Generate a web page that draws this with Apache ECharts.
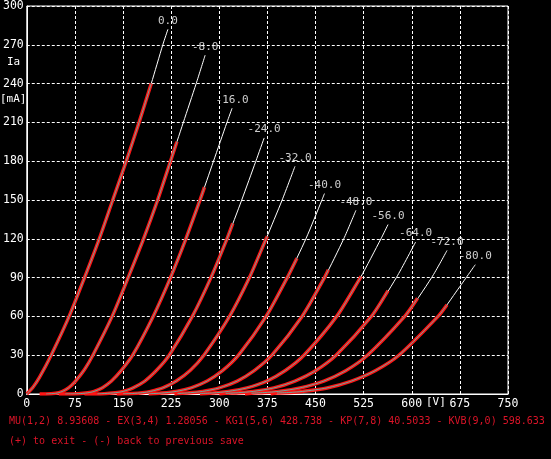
<!DOCTYPE html>
<html>
<head>
<meta charset="utf-8">
<script src="https://cdn.jsdelivr.net/npm/echarts@6/dist/echarts.min.js"></script>
<style>
  html, body { margin: 0; padding: 0; background: #000; }
  #chart { width: 551px; height: 459px; }
</style>
</head>
<body>
<div id="chart"></div>
<script>
// grid voltage of each curve (label at the top end)
const gridVolts = ["0.0", "-8.0", "-16.0", "-24.0", "-32.0", "-40.0", "-48.0", "-56.0", "-64.0", "-72.0", "-80.0"];

// model curves [Va V, Ia mA]
const c0 = [[0, 0], [10, 5.4], [20, 13], [38, 30], [66, 60], [90, 90], [113, 120], [134, 150], [155, 180], [175, 210], [194, 240], [212, 270], [220, 282]];
const c8 = [[30, 0], [45, 0.5], [55, 1.9], [65, 4.7], [76, 10], [90, 19], [103, 30], [133, 60], [158, 90], [182, 120], [204, 150], [224, 180], [244, 210], [264, 240], [278, 262]];
const c16 = [[60, 0], [80, 0.2], [95, 0.9], [105, 2], [118, 4.9], [132, 10], [148, 18.6], [165, 30], [197, 60], [224, 90], [248, 120], [270, 150], [291, 180], [312, 210], [320, 221]];
const c24 = [[110, 0], [138, 1], [150, 2], [165, 4.6], [184, 10], [203, 18.7], [222, 30], [258, 60], [287, 90], [312, 120], [335, 150], [357, 180], [370, 198]];
const c32 = [[150, 0.1], [165, 0.4], [180, 1], [193, 2], [212, 4.7], [233, 10], [255, 18.4], [276, 30], [316, 60], [347, 90], [373, 120], [398, 150], [418, 176]];
const c40 = [[190, 0.15], [210, 0.7], [233, 2], [256, 4.7], [281, 10], [305, 18], [330, 30], [373, 60], [406, 90], [435, 120], [460, 150], [464, 155]];
const c48 = [[235, 0.4], [250, 0.8], [274, 2], [300, 4.7], [328, 10], [355, 18.3], [382, 30], [429, 60], [464, 90], [494, 120], [513, 142]];
const c56 = [[270, 0.4], [290, 0.8], [314, 2], [343, 4.7], [374, 10], [403, 18.2], [432, 30], [483, 60], [520, 90], [552, 120], [563, 131]];
const c64 = [[310, 0.5], [330, 1], [353, 2], [385, 4.7], [418, 10], [450, 18], [482, 30], [537, 60], [576, 90], [606, 117.5]];
const c72 = [[350, 0.6], [370, 1.1], [392, 2], [426, 4.7], [463, 10], [497, 18], [531, 30], [589, 60], [631, 90], [655, 111]];
const c80 = [[390, 0.7], [410, 1.2], [430, 2], [468, 4.7], [506, 10], [543, 18], [580, 30], [641, 60], [672, 81], [699, 100]];
const curves = [c0, c8, c16, c24, c32, c40, c48, c56, c64, c72, c80];

// measured range (red): first point at 0 mA and last point
const measStart = [0, 20, 50, 90, 140, 190, 230, 270, 300, 340, 380];
const measEnd = [[194, 240], [234, 195], [277, 160], [321, 132], [375, 122], [421, 105], [470, 96], [521, 91], [563, 80], [609, 74], [655, 69]];

const xTicks = [0, 75, 150, 225, 300, 375, 450, 525, 600, 675, 750];
const yTicks = [0, 30, 60, 90, 120, 150, 180, 210, 240, 270, 300];

const fitText = "MU(1,2) 8.93608 - EX(3,4) 1.28056 - KG1(5,6) 428.738 - KP(7,8) 40.5033 - KVB(9,0) 598.633";
const helpText = "(+) to exit - (-) back to previous save";

const mono = "DejaVu Sans Mono";
const chart = echarts.init(document.getElementById("chart"));

function measured(i) {
  const pts = curves[i].filter((p) => p[0] > measStart[i] && p[0] < measEnd[i][0]);
  return [[measStart[i], 0]].concat(pts, [measEnd[i]]);
}
function fitted(i) {
  const pts = curves[i].filter((p) => p[0] < measEnd[i][0]);
  return pts.concat([measEnd[i]]);
}

const series = [];
curves.forEach((c, i) => {
  series.push({
    name: gridVolts[i], type: "line", data: c, showSymbol: false, smooth: 0.25,
    lineStyle: { color: "#ffffff", width: 1 }, z: 2, silent: true,
  });
});
curves.forEach((c, i) => {
  series.push({
    type: "line", data: measured(i), showSymbol: false, smooth: 0.25,
    lineStyle: { color: "#ff1414", width: 3.5 }, z: 3, silent: true,
  });
});
curves.forEach((c, i) => {
  series.push({
    type: "line", data: fitted(i), showSymbol: false, smooth: 0.25,
    lineStyle: { color: "#3fd8c8", width: 1, opacity: 0.75 }, z: 4, silent: true,
  });
});
series.push({
  type: "scatter", symbolSize: 0, z: 5, silent: true,
  data: curves.map((c, i) => ({ value: c[c.length - 1], name: gridVolts[i] })),
  label: { show: true, position: "top", distance: 3, formatter: "{b}", color: "#ffffff", fontFamily: mono, fontSize: 11 },
});

chart.setOption({
  backgroundColor: "#000000",
  animation: false,
  grid: { left: 22, right: 43, top: 4, bottom: 65, show: true, borderColor: "#ffffff", borderWidth: 1 },
  xAxis: {
    type: "value", min: xTicks[0], max: xTicks[xTicks.length - 1], interval: 75,
    axisLine: { show: true, lineStyle: { color: "#ffffff" } },
    axisTick: { show: false },
    axisLabel: { color: "#ffffff", fontFamily: mono, fontSize: 11.5, margin: 4 },
    splitLine: { show: true, lineStyle: { color: "#ffffff", type: [3, 2], width: 1 } },
  },
  yAxis: {
    type: "value", min: yTicks[0], max: yTicks[yTicks.length - 1], interval: 30,
    axisLine: { show: true, lineStyle: { color: "#ffffff" } },
    axisTick: { show: false },
    axisLabel: { color: "#ffffff", fontFamily: mono, fontSize: 11.5, margin: 3 },
    splitLine: { show: true, lineStyle: { color: "#ffffff", type: [3, 2], width: 1 } },
  },
  graphic: [
    { type: "text", left: 7, top: 57, style: { text: "Ia", fill: "#ffffff", font: "11px " + mono } },
    { type: "text", left: 0, top: 94, style: { text: "[mA]", fill: "#ffffff", font: "11px " + mono } },
    { type: "text", left: 426, top: 397, style: { text: "[V]", fill: "#ffffff", font: "11px " + mono } },
    { type: "text", left: 9, top: 416, style: { text: fitText, fill: "#dc1428", font: "10px " + mono } },
    { type: "text", left: 9, top: 436, style: { text: helpText, fill: "#dc1428", font: "10px " + mono } },
  ],
  series: series,
});
</script>
</body>
</html>
